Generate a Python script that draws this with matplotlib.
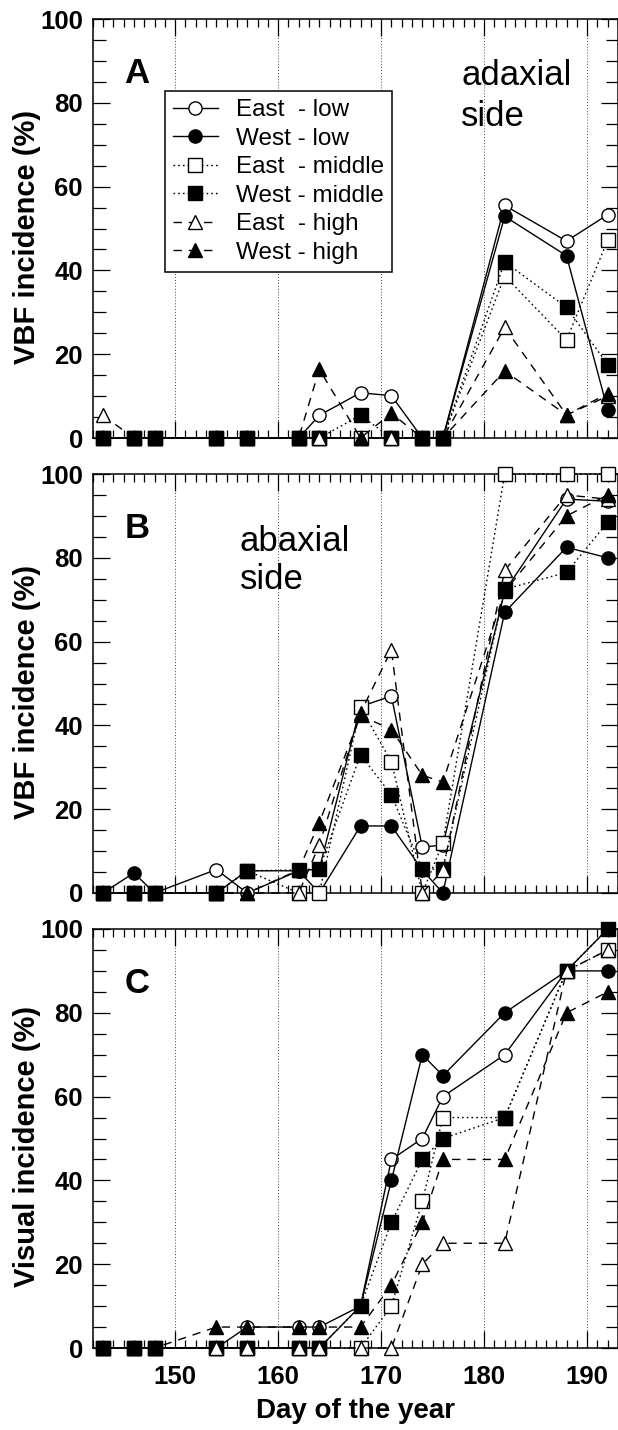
import matplotlib
matplotlib.use("Agg")
import matplotlib.pyplot as plt
from matplotlib.ticker import MultipleLocator

plt.rcParams['font.family'] = ['Liberation Sans', 'DejaVu Sans']

days = [143, 146, 148, 154, 157, 162, 164, 168, 171, 174, 176, 182, 188, 192]
series_labels = ["East  - low", "West - low", "East  - middle", "West - middle", "East  - high", "West - high"]

A_east_low  = [0, 0, 0, 0, 0, 0, 5.4, 10.8, 10.1, 0, 0, 55.5, 47, 53.3]
A_west_low  = [0, 0, 0, 0, 0, 0, 0, 0, 0, 0, 0, 52.9, 43.5, 6.7]
A_east_mid  = [0, 0, 0, 0, 0, 0, 0, 0, 0, 0, 0, 38.7, 23.4, 47.2]
A_west_mid  = [0, 0, 0, 0, 0, 0, 0, 5.4, 0, 0, 0, 42, 31.2, 17.5]
A_east_high = [5.4, 0, 0, 0, 0, 0, 0, 0, 0, 0, 0, 26.4, 5.5, 10]
A_west_high = [0, 0, 0, 0, 0, 0, 16.4, 0, 5.9, 0, 0, 16, 5.5, 10.6]

B_east_low  = [0, 0, 0, 5.6, 0, 5.3, 5.7, 44.5, 47, 10.9, 11.5, 72, 94, 93.5]
B_west_low  = [0, 4.8, 0, 0, 5.3, 5.3, 0, 16, 16, 5.5, 0, 67, 82.5, 80]
B_east_mid  = [0, 0, 0, 0, 5.3, 0, 0, 44.3, 31.3, 0, 12, 100, 100, 100]
B_west_mid  = [0, 0, 0, 0, 5.3, 5.5, 5.7, 33, 23.4, 5.7, 5.7, 72.5, 76.5, 88.5]
B_east_high = [0, 0, 0, 0, 0, 0, 11.5, 43, 58, 0, 5.5, 77, 95, 94]
B_west_high = [0, 0, 0, 0, 0, 5.5, 16.8, 42.4, 39, 28.1, 26.5, 72, 90, 95]

C_east_low  = [0, 0, 0, 0, 5, 5, 5, 10, 45, 50, 60, 70, 90, 100]
C_west_low  = [0, 0, 0, 0, 0, 0, 0, 10, 40, 70, 65, 80, 90, 90]
C_east_mid  = [0, 0, 0, 0, 0, 0, 0, 0, 10, 35, 55, 55, 90, 95]
C_west_mid  = [0, 0, 0, 0, 0, 0, 0, 10, 30, 45, 50, 55, 90, 100]
C_east_high = [0, 0, 0, 0, 0, 0, 0, 0, 0, 20, 25, 25, 90, 95]
C_west_high = [0, 0, 0, 5, 5, 5, 5, 5, 15, 30, 45, 45, 80, 85]

panels = [
    ("A", "VBF incidence (%)", [A_east_low, A_west_low, A_east_mid, A_west_mid, A_east_high, A_west_high]),
    ("B", "VBF incidence (%)", [B_east_low, B_west_low, B_east_mid, B_west_mid, B_east_high, B_west_high]),
    ("C", "Visual incidence (%)", [C_east_low, C_west_low, C_east_mid, C_west_mid, C_east_high, C_west_high]),
]

styles = [
    dict(marker='o', mfc='white', ls='-'),
    dict(marker='o', mfc='black', ls='-'),
    dict(marker='s', mfc='white', ls=(0, (1.2, 2.2))),
    dict(marker='s', mfc='black', ls=(0, (1.2, 2.2))),
    dict(marker='^', mfc='white', ls=(0, (6, 5))),
    dict(marker='^', mfc='black', ls=(0, (6, 5))),
]

W, H = 618, 1430
fig = plt.figure(figsize=(W / 100, H / 100), dpi=100)
left_px = 92.7
panel_top_px = [19, 474, 929]
panel_h_px = 419

axes = []
for i, (letter, ylab, data) in enumerate(panels):
    top = panel_top_px[i]
    ax = fig.add_axes([left_px / W, 1 - (top + panel_h_px) / H, 1 - left_px / W, panel_h_px / H])
    axes.append(ax)
    for vals, st, lab in zip(data, styles, series_labels):
        ax.plot(days, vals, color='black', lw=1.0, ls=st['ls'], marker=st['marker'],
                mfc=st['mfc'], mec='black', mew=1.0, ms=9.5, clip_on=False,
                label=lab, zorder=3)
    ax.set_xlim(142, 193)
    ax.set_ylim(0, 100)
    ax.xaxis.set_major_locator(MultipleLocator(10))
    ax.xaxis.set_minor_locator(MultipleLocator(1))
    ax.yaxis.set_major_locator(MultipleLocator(20))
    ax.yaxis.set_minor_locator(MultipleLocator(5))
    ax.tick_params(axis='both', which='both', direction='in', top=True, right=True, width=0.9, color='black')
    ax.tick_params(axis='x', which='major', length=12, pad=12)
    ax.tick_params(axis='x', which='minor', length=5.5)
    ax.tick_params(axis='y', which='major', length=12.5, pad=7)
    ax.tick_params(axis='y', which='minor', length=9)
    ax.set_yticks([0, 20, 40, 60, 80, 100])
    ax.set_yticklabels(['0', '20', '40', '60', '80', '100'], fontdict=dict(fontweight='bold', fontsize=18.5))
    if i < 2:
        ax.tick_params(axis='x', labelbottom=False)
    else:
        ax.set_xticks([150, 160, 170, 180, 190])
        ax.set_xticklabels(['150', '160', '170', '180', '190'], fontdict=dict(fontweight='bold', fontsize=18.5))
        ax.set_xlabel("Day of the year", fontsize=20, fontweight='bold', labelpad=7)
    for sp in ax.spines.values():
        sp.set_linewidth(1.1)
    ax.grid(axis='x', which='major', color='#444444', lw=0.7, ls=(0, (1, 2)))
    ax.set_axisbelow(True)
    ax.set_ylabel(ylab, fontsize=21, fontweight='bold')
    ax.yaxis.set_label_coords(-0.098, 0.48)
    ax.text(146.3, 87.0, letter, fontsize=25, fontweight='bold', ha='center', va='center')

# annotations
axes[0].text(177.8, 84.2, "adaxial", fontsize=25, ha='left', va='baseline')
axes[0].text(177.8, 74.4, "side", fontsize=25, ha='left', va='baseline')
axes[1].text(156.3, 81.6, "abaxial", fontsize=25, ha='left', va='baseline')
axes[1].text(156.3, 72.5, "side", fontsize=25, ha='left', va='baseline')

leg = axes[0].legend(loc='upper left', bbox_to_anchor=((149 - 142) / 51, 0.828),
                     fontsize=17.5, frameon=True, fancybox=False, framealpha=1,
                     edgecolor='black', handlelength=1.85, handletextpad=0.74,
                     labelspacing=0.27, borderpad=0.33, borderaxespad=0, numpoints=1)
leg.get_frame().set_linewidth(1.1)

fig.savefig("out.png", dpi=100)
